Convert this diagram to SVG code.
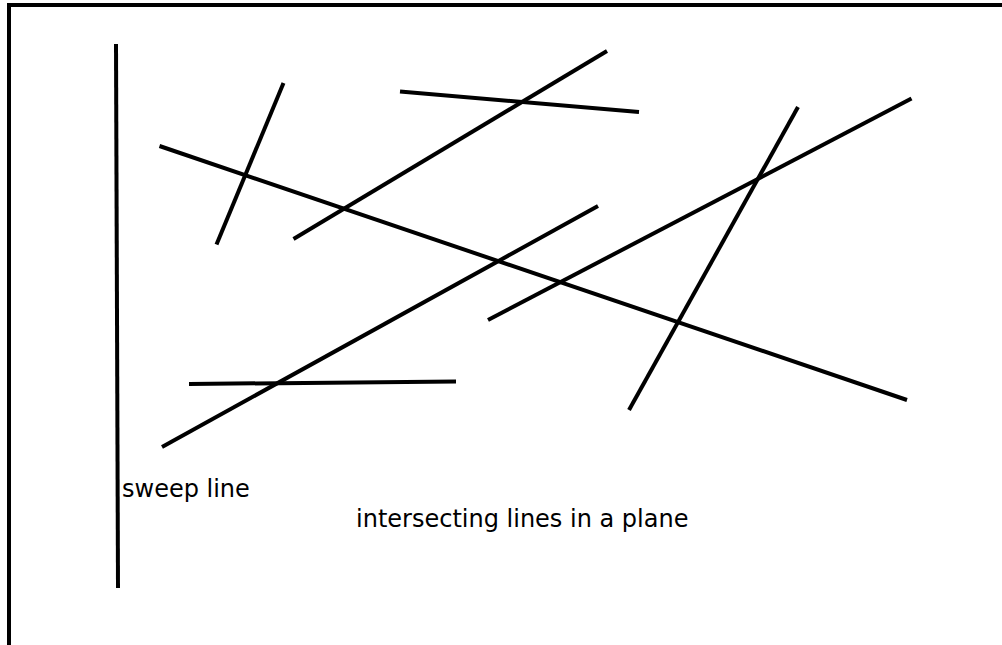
<svg xmlns="http://www.w3.org/2000/svg" width="1002" height="645" viewBox="0 0 1002 645">
<style>
.ln{stroke:#000;stroke-width:4;stroke-linecap:butt;fill:none}
.t{font-family:"DejaVu Sans",sans-serif;font-size:24px;fill:#000}
</style>
<rect x="0" y="0" width="1002" height="645" fill="#fff"/>
<rect id="frame" x="9" y="5" width="1100" height="700" fill="none" stroke="#000" stroke-width="4"/>
<g id="sweep">
<line class="ln" x1="116" y1="44" x2="118" y2="588"/>
<text class="t" x="122" y="497">sweep line</text>
</g>
<g id="lines">
<line class="ln" x1="159.5" y1="146" x2="907" y2="400"/>
<line class="ln" x1="216.5" y1="244.5" x2="283.5" y2="83"/>
<line class="ln" x1="293.5" y1="239" x2="607" y2="51"/>
<line class="ln" x1="400" y1="91.5" x2="639" y2="112"/>
<line class="ln" x1="162" y1="447" x2="598" y2="206"/>
<line class="ln" x1="189" y1="384" x2="456" y2="381.5"/>
<line class="ln" x1="488" y1="320" x2="911.5" y2="98.5"/>
<line class="ln" x1="629" y1="410" x2="798" y2="107"/>
</g>
<text class="t" x="356" y="527">intersecting lines in a plane</text>
</svg>
